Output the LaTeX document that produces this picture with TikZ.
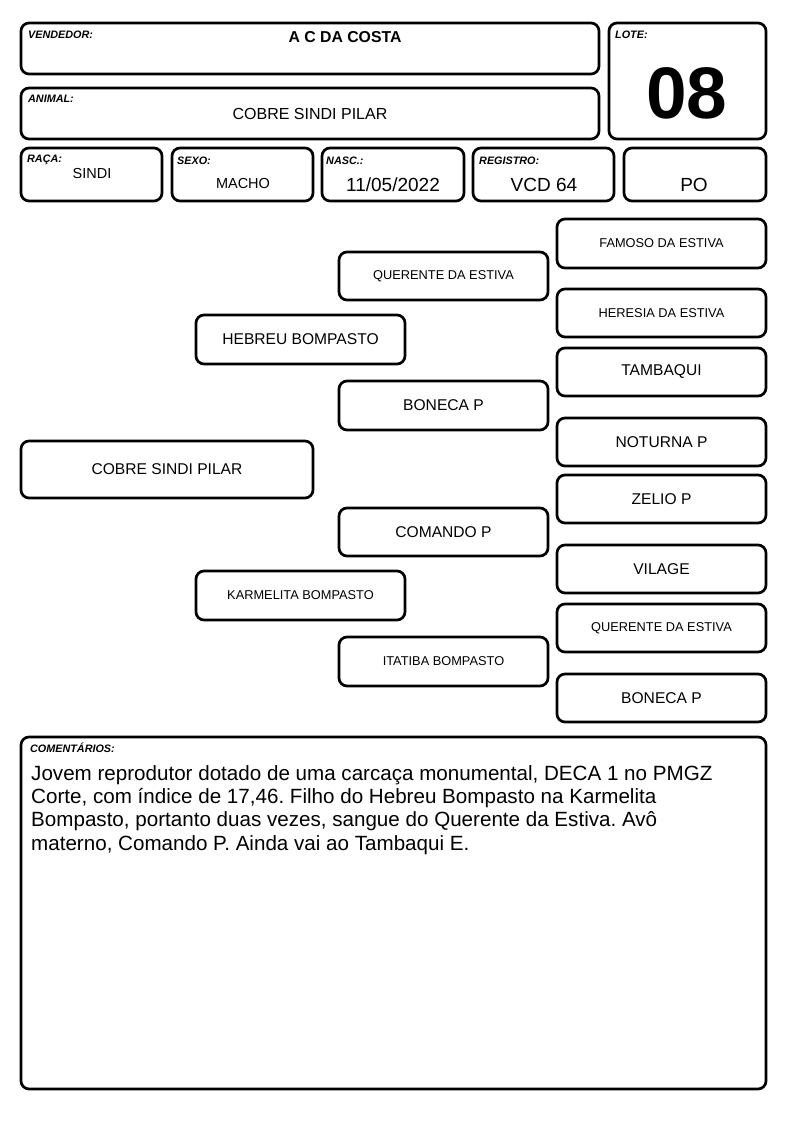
\documentclass[tikz,border=0pt]{standalone}
\usepackage{fontspec}
\setmainfont{Liberation Sans}
\newcommand\bx[7][]{\node[box,minimum width={(#5-#3)*1pt},minimum height={(#6-#4)*1pt},#1] (#2) at ({(#3+#5)/2},{(#4+#6)/2}) {#7};}
\frenchspacing
\begin{document}
\begin{tikzpicture}[x=1pt,y=-1pt,
  box/.style={draw, line width=2.7pt, rounded corners=8pt, inner sep=0pt, align=center},
  lbl/.style={font=\fontsize{10.8}{12}\selectfont\bfseries\itshape, anchor=base west, inner sep=0pt},
  val/.style={anchor=base, inner sep=0pt},
  big/.style={font=\fontsize{15.6}{18}\selectfont},
  small/.style={font=\fontsize{12.8}{15}\selectfont},
  cmt/.style={font=\fontsize{20.6}{23}\selectfont, anchor=base west, inner sep=0pt}]
\useasboundingbox (0,0) rectangle (794,1123);
\fill[white] (0,0) rectangle (794,1123);
% header
\bx{vend}{21}{23}{599}{74}{}
\bx{anim}{21}{88}{599}{139}{}
\bx{lote}{609}{23}{766}{139}{}
\bx{raca}{21}{148}{162}{201}{}
\bx{sexo}{172}{148}{313}{201}{}
\bx{nasc}{322}{148}{464}{201}{}
\bx{reg}{473}{148}{614}{201}{}
\bx{po}{624}{148}{766}{201}{}
\node[lbl] (lvend) at (28,39) {VENDEDOR:};
\node[lbl] (lanim) at (28,102.5) {ANIMAL:};
\node[lbl] (llote) at (615,39) {LOTE:};
\node[lbl] (lraca) at (27,162.5) {RAÇA:};
\node[lbl] (lsexo) at (177,165) {SEXO:};
\node[lbl] (lnasc) at (326,165) {NASC.:};
\node[lbl] (lreg) at (479,165) {REGISTRO:};
\node[val, font=\fontsize{15.8}{18}\selectfont\bfseries] (vvend) at (345,42.7) {A C DA COSTA};
\node[val, font=\fontsize{16}{18}\selectfont] (vanim) at (310,119.3) {COBRE SINDI PILAR};
\node[val, font=\fontsize{73}{80}\selectfont\bfseries] (vlote) at (687,119) {08};
\node[val, font=\fontsize{14.5}{17}\selectfont] (vraca) at (92,178.3) {SINDI};
\node[val, font=\fontsize{14.5}{17}\selectfont] (vsexo) at (243,189) {MACHO};
\node[val, font=\fontsize{19}{22}\selectfont] (vnasc) at (393,192) {11/05/2022};
\node[val, font=\fontsize{19}{22}\selectfont] (vreg) at (544,191.7) {VCD 64};
\node[val, font=\fontsize{19}{22}\selectfont] (vpo) at (694,191.7) {PO};
% pedigree
\bx[big]{p0}{21}{441}{313}{498}{COBRE SINDI PILAR}
\bx[big]{p1}{196}{315}{405}{364}{HEBREU BOMPASTO}
\bx[small]{p2}{196}{571}{405}{620}{KARMELITA BOMPASTO}
\bx[small]{p11}{339}{252}{548}{300}{QUERENTE DA ESTIVA}
\bx[big]{p12}{339}{381}{548}{430}{BONECA P}
\bx[big]{p21}{339}{508}{548}{556}{COMANDO P}
\bx[small]{p22}{339}{637}{548}{686}{ITATIBA BOMPASTO}
\bx[small]{p111}{557}{219}{766}{268}{FAMOSO DA ESTIVA}
\bx[small]{p112}{557}{289}{766}{337}{HERESIA DA ESTIVA}
\bx[big]{p121}{557}{348}{766}{396}{TAMBAQUI}
\bx[big]{p122}{557}{418}{766}{466}{NOTURNA P}
\bx[big]{p211}{557}{475}{766}{523}{ZELIO P}
\bx[big]{p212}{557}{545}{766}{593}{VILAGE}
\bx[small]{p221}{557}{604}{766}{652}{QUERENTE DA ESTIVA}
\bx[big]{p222}{557}{674}{766}{722}{BONECA P}
% comments
\bx{com}{21}{737}{766}{1089}{}
\node[lbl] (lcom) at (30,752.5) {COMENTÁRIOS:};
\node[cmt] (c1) at (31,780) {Jovem reprodutor dotado de uma carcaça monumental, DECA 1 no PMGZ};
\node[cmt] (c2) at (31,803.3) {Corte, com índice de 17,46. Filho do Hebreu Bompasto na Karmelita};
\node[cmt] (c3) at (31,826.6) {Bompasto, portanto duas vezes, sangue do Querente da Estiva. Avô};
\node[cmt] (c4) at (31,850) {materno, Comando P. Ainda vai ao Tambaqui E.};
\end{tikzpicture}
\end{document}
